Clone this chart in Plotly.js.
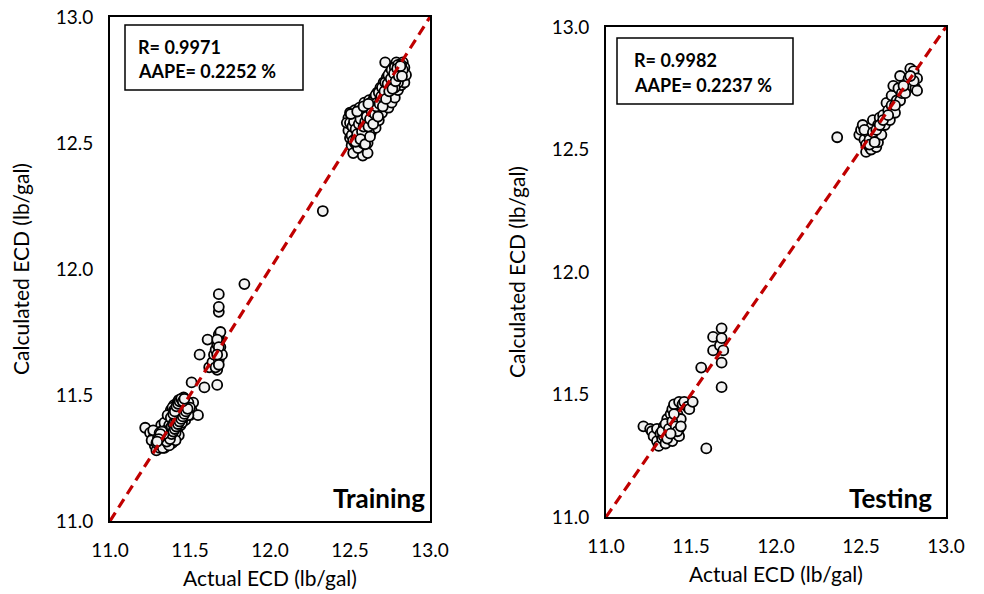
<!DOCTYPE html>
<html>
<head>
<meta charset="utf-8">
<script src="https://cdn.plot.ly/plotly-3.0.1.min.js"></script>
<style>html,body{margin:0;padding:0;background:#fff;}#chart{width:984px;height:594px;}</style>
</head>
<body>
<div id="chart"></div>
<script>
// ---- Training set: actual vs calculated ECD (lb/gal) ----
const trainActual = [
 11.22,11.25,11.27,11.28,11.29,11.29,11.30,11.30,11.31,11.31,11.32,11.32,11.33,11.33,11.34,11.34,11.35,11.35,11.35,11.36,
 11.36,11.36,11.37,11.37,11.38,11.38,11.38,11.39,11.39,11.40,11.40,11.40,11.41,11.41,11.42,11.42,11.42,11.43,11.43,11.44,
 11.44,11.44,11.45,11.45,11.46,11.46,11.47,11.47,11.48,11.48,11.49,11.50,11.51,11.52,11.55,11.51,11.32,11.39,11.43,11.26,
 11.56,11.59,11.61,11.62,11.64,11.65,11.66,11.67,11.67,11.67,11.68,11.68,11.68,11.68,11.68,11.68,11.69,11.69,11.70,11.68,
 11.68,11.68,11.84,12.33,
 12.49,12.49,12.50,12.50,12.51,12.51,12.52,12.52,12.53,12.53,12.54,12.54,12.55,12.55,12.56,12.56,12.57,12.57,12.58,12.58,
 12.59,12.59,12.60,12.60,12.61,12.61,12.62,12.62,12.63,12.63,12.64,12.64,12.65,12.65,12.66,12.66,12.67,12.67,12.68,12.68,
 12.69,12.69,12.70,12.70,12.71,12.71,12.72,12.72,12.73,12.73,12.74,12.74,12.75,12.75,12.76,12.76,12.77,12.77,12.78,12.78,
 12.79,12.79,12.80,12.80,12.81,12.81,12.82,12.82,12.83,12.83,12.84,12.84,12.85,12.52,12.58,12.61,12.48,
 11.27,11.29,11.30,11.31,11.32,11.33,11.33,11.34,11.34,11.35,11.36,11.36,11.37,11.37,11.38,11.38,11.39,11.39,11.40,11.40,
 11.41,11.41,11.42,11.42,11.43,11.43,11.44,11.44,11.45,11.45,11.46,11.46,11.47,11.47,11.48,11.49,11.49,11.50,11.41,11.35,
 11.67,11.68,11.67,11.66,11.68,
 12.50,12.51,12.52,12.52,12.53,12.54,12.54,12.55,12.55,12.56,12.57,12.57,12.58,12.58,12.59,12.60,12.60,12.61,12.62,12.62,
 12.63,12.64,12.65,12.66,12.66,12.67,12.68,12.69,12.70,12.71,12.72,12.73,12.74,12.75,12.76,12.77,12.78,12.79,12.80,12.81,
 12.82,12.83,12.80,12.78,
 11.355,11.365,11.375,11.385,11.395,11.405,11.415,11.425,11.435,11.445,11.455,11.465,11.345,11.355,11.365,11.375,11.385,11.395,11.405,11.415,
 11.425,11.435,11.445,11.455,11.465,11.475,11.485,11.395,11.405,11.415,11.425,11.435,11.445,11.335,11.325,11.315,11.305,11.295,11.455,11.465,
 12.515,12.525,12.535,12.545,12.555,12.565,12.575,12.585,12.595,12.605,12.615,12.625,12.635,12.645,12.655,12.665,12.675,12.685,12.695,12.705,
 12.715,12.725,12.735,12.745,12.755,12.765,12.775,12.785,12.795,12.805,12.815,12.825,12.535,12.565,12.595,12.625,12.505,12.545,12.585,12.615
];
const trainCalc = [
 11.37,11.35,11.33,11.30,11.28,11.34,11.31,11.36,11.33,11.29,11.35,11.38,11.31,11.33,11.36,11.29,11.34,11.38,11.31,11.33,
 11.37,11.40,11.35,11.42,11.32,11.38,11.44,11.36,11.40,11.34,11.42,11.46,11.38,11.44,11.36,11.40,11.47,11.42,11.45,11.38,
 11.44,11.48,11.41,11.46,11.43,11.49,11.40,11.45,11.43,11.47,11.45,11.42,11.44,11.47,11.42,11.55,11.30,11.31,11.34,11.32,
 11.66,11.53,11.72,11.61,11.63,11.66,11.68,11.60,11.54,11.70,11.64,11.67,11.71,11.72,11.73,11.74,11.75,11.69,11.66,11.83,
 11.85,11.90,11.94,12.23,
 12.60,12.55,12.62,12.52,12.57,12.49,12.60,12.54,12.63,12.50,12.57,12.47,12.61,12.53,12.64,12.49,12.58,12.55,12.62,12.47,
 12.52,12.66,12.59,12.55,12.63,12.50,12.57,12.67,12.60,12.54,12.64,12.58,12.68,12.61,12.56,12.66,12.63,12.70,12.59,12.67,
 12.72,12.64,12.69,12.62,12.74,12.66,12.71,12.82,12.68,12.76,12.72,12.64,12.78,12.70,12.74,12.66,12.80,12.72,12.76,12.68,
 12.82,12.74,12.78,12.71,12.81,12.75,12.79,12.73,12.82,12.77,12.80,12.74,12.77,12.46,12.45,12.46,12.58,
 11.36,11.31,11.33,11.35,11.33,11.36,11.29,11.34,11.39,11.36,11.31,11.42,11.38,11.30,11.35,11.41,11.45,11.33,11.38,11.44,
 11.41,11.35,11.45,11.38,11.48,11.39,11.41,11.46,11.43,11.39,11.46,11.41,11.48,11.43,11.45,11.47,11.42,11.45,11.32,11.33,
 11.72,11.69,11.66,11.61,11.62,
 12.58,12.53,12.57,12.51,12.59,12.61,12.52,12.56,12.48,12.60,12.52,12.63,12.57,12.50,12.61,12.64,12.52,12.58,12.61,12.54,
 12.66,12.61,12.64,12.69,12.60,12.66,12.70,12.67,12.72,12.69,12.74,12.72,12.77,12.74,12.79,12.75,12.80,12.77,12.81,12.78,
 12.81,12.79,12.74,12.72,
 11.345,11.355,11.365,11.375,11.385,11.395,11.405,11.415,11.425,11.435,11.445,11.455,11.325,11.315,11.335,11.325,11.345,11.355,11.365,11.375,
 11.385,11.395,11.405,11.415,11.425,11.435,11.445,11.425,11.435,11.455,11.465,11.475,11.485,11.345,11.355,11.345,11.325,11.315,11.475,11.485,
 12.565,12.585,12.555,12.535,12.575,12.595,12.545,12.565,12.585,12.605,12.565,12.595,12.625,12.575,12.615,12.645,12.605,12.655,12.685,12.645,
 12.705,12.675,12.735,12.705,12.755,12.715,12.775,12.745,12.795,12.765,12.805,12.765,12.505,12.515,12.495,12.525,12.615,12.625,12.645,12.655
];

// ---- Testing set ----
const testActual = [
 11.22,11.26,11.27,11.28,11.30,11.30,11.31,11.32,11.33,11.34,11.34,11.35,11.36,11.36,11.37,11.38,11.38,11.39,11.39,11.40,
 11.40,11.41,11.42,11.43,11.43,11.43,11.44,11.45,11.46,11.48,11.49,11.51,
 11.56,11.59,11.63,11.63,11.67,11.68,11.68,11.68,11.68,11.69,
 12.36,12.49,12.50,12.51,12.52,12.53,12.53,12.54,12.55,12.56,12.56,12.57,12.58,12.59,12.60,12.60,12.61,12.62,12.63,12.64,
 12.65,12.66,12.67,12.68,12.68,12.69,12.70,12.71,12.72,12.73,12.73,12.74,12.76,12.77,12.78,12.79,12.80,12.81,12.82,12.83,
 12.83,12.81,
 11.33,11.35,11.37,11.39,11.41,11.42,11.44,11.36,11.38,11.40,
 12.52,12.55,12.57,12.59,12.61,12.63,12.66,12.70,12.75,12.79,12.55,12.58
];
const testCalc = [
 11.37,11.36,11.35,11.33,11.36,11.31,11.29,11.34,11.32,11.37,11.33,11.30,11.40,11.35,11.33,11.42,11.37,11.31,11.44,11.46,
 11.39,11.34,11.42,11.47,11.36,11.33,11.40,11.46,11.47,11.45,11.44,11.47,
 11.61,11.28,11.68,11.735,11.70,11.77,11.73,11.63,11.53,11.68,
 12.55,12.56,12.58,12.60,12.54,12.52,12.49,12.57,12.51,12.50,12.59,12.62,12.55,12.51,12.53,12.60,12.63,12.56,12.64,12.60,
 12.69,12.66,12.62,12.68,12.72,12.76,12.65,12.70,12.75,12.70,12.80,12.73,12.73,12.77,12.79,12.83,12.76,12.82,12.75,12.79,
 12.74,12.78,
 11.35,11.38,11.36,11.39,11.37,11.35,11.37,11.32,11.34,11.42,
 12.58,12.54,12.57,12.58,12.60,12.62,12.64,12.68,12.76,12.80,12.52,12.53
];

const lineRange = [11.0, 13.0];
const tickVals = [11.0, 11.5, 12.0, 12.5, 13.0];
const tickText = ['11.0', '11.5', '12.0', '12.5', '13.0'];
const statsTrain = ['R= 0.9971', 'AAPE= 0.2252 %'];
const statsTest = ['R= 0.9982', 'AAPE= 0.2237 %'];
const panelNames = ['Training', 'Testing'];
const xTitle = 'Actual ECD (lb/gal)';
const yTitle = 'Calculated ECD (lb/gal)';

const FONT = 'Lato, "Open Sans", sans-serif';
const markerStyle = {symbol: 'circle', size: 10, color: '#F2F2F2', line: {color: '#000', width: 1.8}};
const dashLine = {color: '#C00000', width: 3.2, dash: '10px,6px'};

const traces = [
  {x: trainActual, y: trainCalc, type: 'scatter', mode: 'markers', marker: markerStyle, xaxis: 'x', yaxis: 'y', showlegend: false},
  {x: lineRange, y: lineRange, type: 'scatter', mode: 'lines', line: dashLine, xaxis: 'x', yaxis: 'y', showlegend: false},
  {x: testActual, y: testCalc, type: 'scatter', mode: 'markers', marker: markerStyle, xaxis: 'x2', yaxis: 'y2', showlegend: false},
  {x: lineRange, y: lineRange, type: 'scatter', mode: 'lines', line: dashLine, xaxis: 'x2', yaxis: 'y2', showlegend: false}
];

const titleFont = {family: FONT, size: 21, color: '#000'};
function axis(extra) {
  return Object.assign({
    range: lineRange, tickvals: tickVals, ticktext: tickText,
    showgrid: false, zeroline: false, showline: true, mirror: true,
    linecolor: '#000', linewidth: 2, ticks: '',
    tickfont: {family: FONT, size: 19, color: '#000'},
    fixedrange: true
  }, extra);
}

const px = v => v / 984, py = v => 1 - v / 594;

const layout = {
  width: 984, height: 594,
  margin: {l: 0, r: 0, t: 0, b: 0},
  paper_bgcolor: '#fff', plot_bgcolor: '#fff',
  font: {family: FONT, color: '#000'},
  xaxis: axis({domain: [px(110), px(430)], anchor: 'y', ticklabelstandoff: 11,
    title: {text: xTitle, font: titleFont, standoff: 12}}),
  yaxis: axis({domain: [py(521), py(17)], anchor: 'x', ticklabelstandoff: 11,
    title: {text: yTitle, font: titleFont, standoff: 20}}),
  xaxis2: axis({domain: [px(606), px(946)], anchor: 'y2', ticklabelstandoff: 11,
    title: {text: xTitle, font: titleFont, standoff: 12}}),
  yaxis2: axis({domain: [py(517), py(27)], anchor: 'x2', ticklabelstandoff: 11,
    title: {text: yTitle, font: titleFont, standoff: 20}}),
  shapes: [
    {type: 'rect', xref: 'paper', yref: 'paper', x0: px(125), x1: px(303), y0: py(90), y1: py(25), line: {color: '#000', width: 1.5}, fillcolor: '#fff'},
    {type: 'rect', xref: 'paper', yref: 'paper', x0: px(617), x1: px(793), y0: py(104), y1: py(38), line: {color: '#000', width: 1.5}, fillcolor: '#fff'}
  ],
  annotations: [
    {xref: 'paper', yref: 'paper', x: px(136), y: py(46.5), xanchor: 'left', yanchor: 'middle', text: '<b>' + statsTrain[0] + '</b>', showarrow: false, font: {family: FONT, size: 18, color: '#000'}},
    {xref: 'paper', yref: 'paper', x: px(136), y: py(71.5), xanchor: 'left', yanchor: 'middle', text: '<b>' + statsTrain[1] + '</b>', showarrow: false, font: {family: FONT, size: 18, color: '#000'}},
    {xref: 'paper', yref: 'paper', x: px(632), y: py(60), xanchor: 'left', yanchor: 'middle', text: '<b>' + statsTest[0] + '</b>', showarrow: false, font: {family: FONT, size: 18, color: '#000'}},
    {xref: 'paper', yref: 'paper', x: px(632), y: py(84.5), xanchor: 'left', yanchor: 'middle', text: '<b>' + statsTest[1] + '</b>', showarrow: false, font: {family: FONT, size: 18, color: '#000'}},
    {xref: 'paper', yref: 'paper', x: px(427), y: py(498), xanchor: 'right', yanchor: 'middle', text: '<b>' + panelNames[0] + '</b>', showarrow: false, font: {family: FONT, size: 26, color: '#000'}},
    {xref: 'paper', yref: 'paper', x: px(934), y: py(498), xanchor: 'right', yanchor: 'middle', text: '<b>' + panelNames[1] + '</b>', showarrow: false, font: {family: FONT, size: 26, color: '#000'}}
  ]
};

Plotly.newPlot('chart', traces, layout, {displayModeBar: false, staticPlot: true});
</script>
</body>
</html>
